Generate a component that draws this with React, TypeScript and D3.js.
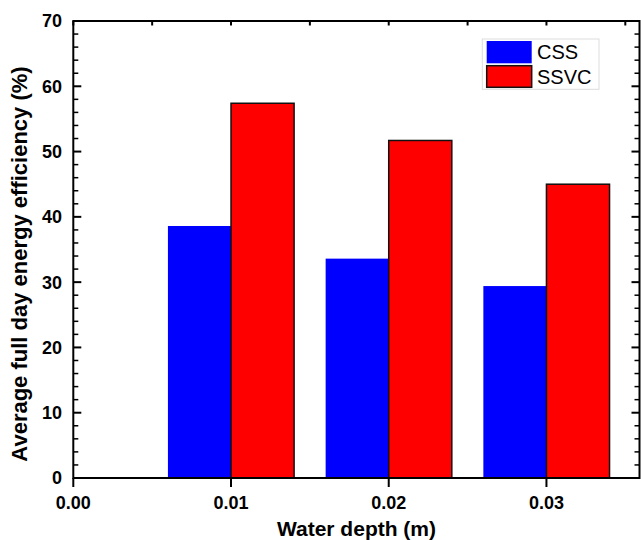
import React from "react";
import * as d3 from "d3";

const depths = [0.01, 0.02, 0.03];
const cssValues = [38.6, 33.6, 29.4];
const ssvcValues = [57.4, 51.7, 45.0];
const seriesNames = ["CSS", "SSVC"];
const seriesColors = ["#0000ff", "#ff0000"];
const xTickValues = [0, 0.01, 0.02, 0.03];
const yTickValues = [0, 10, 20, 30, 40, 50, 60, 70];

const W = 641;
const H = 540;
const left = 73.3;
const right = 639.5;
const top = 21;
const bottom = 478;
const barW = 0.004;
const font = "'Liberation Sans', Arial, Helvetica, sans-serif";

export default function App() {
  const x = d3.scaleLinear().domain([0, 0.0359]).range([left, right]);
  const y = d3.scaleLinear().domain([0, 70]).range([bottom, top]);
  const topTicks = d3.range(0, 0.0351, 0.005);
  const minorY = d3.range(0, 70.1, 2).filter((v) => v % 10 !== 0);

  return (
    <svg width={W} height={H} style={{ position: "absolute", left: 0, top: 0 }} fontFamily={font}>
      <rect x={0} y={0} width={W} height={H} fill="#fff" />
      {depths.map((d, i) => (
        <g key={d}>
          <rect
            x={x(d - barW)}
            y={y(cssValues[i])}
            width={x(d) - x(d - barW)}
            height={y(0) - y(cssValues[i])}
            fill={seriesColors[0]}
          />
          <rect
            x={x(d)}
            y={y(ssvcValues[i])}
            width={x(d + barW) - x(d)}
            height={y(0) - y(ssvcValues[i])}
            fill={seriesColors[1]}
            stroke="#111"
            strokeWidth={1.5}
          />
        </g>
      ))}
      {/* frame */}
      <rect x={left} y={top} width={right - left} height={bottom - top} fill="none" stroke="#000" strokeWidth={2} />
      {/* bottom ticks */}
      {xTickValues.map((t) => (
        <g key={"xt" + t}>
          <line x1={x(t)} x2={x(t)} y1={bottom} y2={bottom + 9} stroke="#000" strokeWidth={2} />
          <text x={x(t)} y={509} textAnchor="middle" fontSize={18} fontWeight="bold">
            {t.toFixed(2)}
          </text>
        </g>
      ))}
      {/* top ticks */}
      {topTicks.map((t) => (
        <line key={"tt" + t} x1={x(t)} x2={x(t)} y1={top} y2={top + 4.5} stroke="#000" strokeWidth={2} />
      ))}
      {/* y ticks */}
      {yTickValues.map((t) => (
        <g key={"yt" + t}>
          <line x1={left} x2={left + 8} y1={y(t)} y2={y(t)} stroke="#000" strokeWidth={2} />
          <line x1={right} x2={right - 8} y1={y(t)} y2={y(t)} stroke="#000" strokeWidth={2} />
          <text x={62} y={y(t)} dy="0.36em" textAnchor="end" fontSize={18} fontWeight="bold">
            {t}
          </text>
        </g>
      ))}
      {minorY.map((t) => (
        <g key={"ym" + t}>
          <line x1={left} x2={left + 5} y1={y(t)} y2={y(t)} stroke="#000" strokeWidth={1.5} />
          <line x1={right} x2={right - 5} y1={y(t)} y2={y(t)} stroke="#000" strokeWidth={1.5} />
        </g>
      ))}
      {/* axis titles */}
      <text x={356.5} y={536} textAnchor="middle" fontSize={21} fontWeight="bold">
        Water depth (m)
      </text>
      <text
        transform={`translate(27, 264) rotate(-90)`}
        textAnchor="middle"
        fontSize={22}
        fontWeight="bold"
      >
        Average full day energy efficiency (%)
      </text>
      {/* legend */}
      <rect x={482.3} y={39} width={116.7} height={50.3} fill="#fff" stroke="#ddd" strokeWidth={1} />
      {seriesNames.map((n, i) => (
        <g key={n}>
          <rect
            x={486.7}
            y={i === 0 ? 41 : 65.7}
            width={45}
            height={i === 0 ? 22.3 : 21.6}
            fill={seriesColors[i]}
            stroke={i === 1 ? "#111" : "none"}
            strokeWidth={1.5}
          />
          <text x={537} y={i === 0 ? 51.7 : 76.7} dy="0.36em" fontSize={20}>
            {n}
          </text>
        </g>
      ))}
    </svg>
  );
}
